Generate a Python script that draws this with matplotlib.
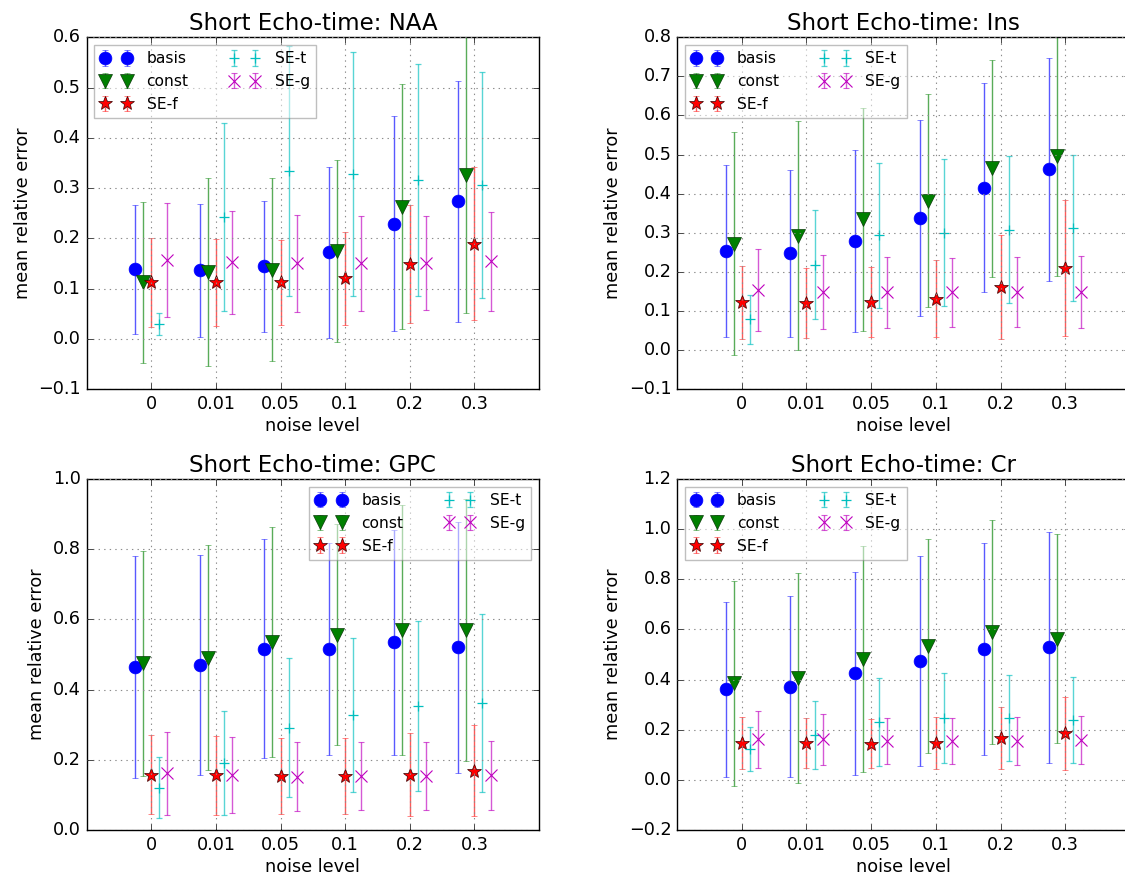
import numpy as np
import matplotlib
matplotlib.use("Agg")
import matplotlib.pyplot as plt

plt.style.use("classic")

noise_labels = ["0", "0.01", "0.05", "0.1", "0.2", "0.3"]
methods = ["basis", "const", "SE-f", "SE-t", "SE-g"]

# mean relative error and half-width of the error bar, per metabolite
naa_mean = {
    "basis": [0.138, 0.136, 0.144, 0.172, 0.229, 0.274],
    "const": [0.112, 0.132, 0.137, 0.174, 0.263, 0.326],
    "SE-f": [0.112, 0.112, 0.112, 0.120, 0.149, 0.189],
    "SE-t": [0.029, 0.242, 0.334, 0.328, 0.316, 0.306],
    "SE-g": [0.157, 0.152, 0.150, 0.150, 0.151, 0.154],
}
naa_err = {
    "basis": [0.128, 0.132, 0.131, 0.170, 0.214, 0.240],
    "const": [0.160, 0.187, 0.182, 0.181, 0.244, 0.275],
    "SE-f": [0.088, 0.087, 0.085, 0.092, 0.118, 0.152],
    "SE-t": [0.022, 0.187, 0.248, 0.243, 0.231, 0.225],
    "SE-g": [0.113, 0.103, 0.096, 0.095, 0.094, 0.098],
}

ins_mean = {
    "basis": [0.252, 0.247, 0.279, 0.338, 0.415, 0.462],
    "const": [0.272, 0.292, 0.334, 0.382, 0.465, 0.497],
    "SE-f": [0.122, 0.120, 0.122, 0.131, 0.162, 0.209],
    "SE-t": [0.078, 0.218, 0.293, 0.300, 0.307, 0.312],
    "SE-g": [0.153, 0.149, 0.147, 0.147, 0.148, 0.148],
}
ins_err = {
    "basis": [0.220, 0.213, 0.232, 0.250, 0.268, 0.286],
    "const": [0.285, 0.293, 0.285, 0.273, 0.278, 0.307],
    "SE-f": [0.093, 0.090, 0.090, 0.099, 0.133, 0.174],
    "SE-t": [0.063, 0.140, 0.186, 0.188, 0.188, 0.186],
    "SE-g": [0.104, 0.095, 0.090, 0.088, 0.089, 0.092],
}

gpc_mean = {
    "basis": [0.465, 0.470, 0.516, 0.516, 0.535, 0.520],
    "const": [0.475, 0.491, 0.536, 0.556, 0.570, 0.570],
    "SE-f": [0.158, 0.156, 0.154, 0.154, 0.158, 0.169],
    "SE-t": [0.121, 0.190, 0.292, 0.327, 0.353, 0.361],
    "SE-g": [0.161, 0.156, 0.152, 0.154, 0.154, 0.156],
}
gpc_err = {
    "basis": [0.316, 0.314, 0.312, 0.302, 0.320, 0.358],
    "const": [0.320, 0.320, 0.327, 0.315, 0.355, 0.374],
    "SE-f": [0.113, 0.112, 0.109, 0.109, 0.117, 0.130],
    "SE-t": [0.086, 0.148, 0.198, 0.220, 0.242, 0.254],
    "SE-g": [0.117, 0.108, 0.098, 0.096, 0.097, 0.098],
}

cr_mean = {
    "basis": [0.361, 0.372, 0.426, 0.474, 0.523, 0.528],
    "const": [0.385, 0.406, 0.483, 0.534, 0.590, 0.563],
    "SE-f": [0.148, 0.148, 0.145, 0.148, 0.167, 0.185],
    "SE-t": [0.122, 0.179, 0.232, 0.247, 0.247, 0.239],
    "SE-g": [0.161, 0.161, 0.155, 0.155, 0.155, 0.159],
}
cr_err = {
    "basis": [0.350, 0.361, 0.405, 0.418, 0.423, 0.462],
    "const": [0.408, 0.418, 0.451, 0.426, 0.446, 0.416],
    "SE-f": [0.103, 0.100, 0.098, 0.104, 0.122, 0.144],
    "SE-t": [0.088, 0.136, 0.176, 0.180, 0.170, 0.170],
    "SE-g": [0.112, 0.103, 0.093, 0.093, 0.094, 0.094],
}

panels = [
    ("NAA", naa_mean, naa_err, (-0.1, 0.6), 0.1, "upper left"),
    ("Ins", ins_mean, ins_err, (-0.1, 0.8), 0.1, "upper left"),
    ("GPC", gpc_mean, gpc_err, (0.0, 1.0), 0.2, "upper right"),
    ("Cr", cr_mean, cr_err, (-0.2, 1.2), 0.2, "upper left"),
]

styles = {
    "basis": dict(fmt="o", color="b", ms=9.2, mec="b", mew=0.5),
    "const": dict(fmt="v", color="g", ms=9.8, mec="#0a3a0a", mew=0.5),
    "SE-f": dict(fmt="*", color="r", ms=10.0, mec="#3a0000", mew=0.5),
    "SE-t": dict(fmt="+", color="c", ms=6.5, mec="c", mew=0.9),
    "SE-g": dict(fmt="x", color="m", ms=9.0, mec="m", mew=0.8),
}
offsets = [-0.25, -0.125, 0.0, 0.125, 0.25]

W, H = 1125, 874
# axes boxes in pixels: left, top, right, bottom (right column runs past the edge)
boxes = [(86.7, 37.3, 539, 389), (677, 37.3, 1130, 389),
         (86.7, 479, 539, 830), (677, 479, 1130, 830)]

fig = plt.figure(figsize=(W / 100, H / 100), dpi=100, facecolor="white")
x = np.arange(len(noise_labels))

for (name, means, errs, ylim, step, loc), (l, t, r, b) in zip(panels, boxes):
    ax = fig.add_axes([l / W, 1 - b / H, (r - l) / W, (b - t) / H])
    for m, off in zip(methods, offsets):
        st = styles[m]
        eb = ax.errorbar(x + off, means[m], yerr=errs[m], fmt=st["fmt"],
                         color=st["color"], ecolor=st["color"], ms=st["ms"],
                         mec=st["mec"], mew=st["mew"],
                         capsize=1.9, elinewidth=1.0, label=m)
        for c in eb[1]:
            c.set_alpha(0.65)
        for c in eb[2]:
            c.set_alpha(0.65)
    ax.set_xlim(-1, 6)
    ax.set_ylim(*ylim)
    ax.set_yticks(np.arange(ylim[0], ylim[1] + step / 2, step))
    ax.set_xticks(x)
    ax.set_xticklabels(noise_labels)
    ax.tick_params(labelsize=12.7)
    ax.grid(True, color="0.55", linestyle=":", linewidth=0.8)
    ax.set_title("Short Echo-time: " + name, fontsize=16.5)
    ax.set_xlabel("noise level", fontsize=12.7, labelpad=3)
    ax.set_ylabel("mean relative error", fontsize=12.7)
    leg = ax.legend(loc=loc, ncol=2, numpoints=2, fontsize=11.2,
                    framealpha=0.5, columnspacing=2.6, handletextpad=0.95)
    leg.get_frame().set_edgecolor((0.5, 0.5, 0.5, 0.6))

fig.savefig("out.png", dpi=100, facecolor="white")
